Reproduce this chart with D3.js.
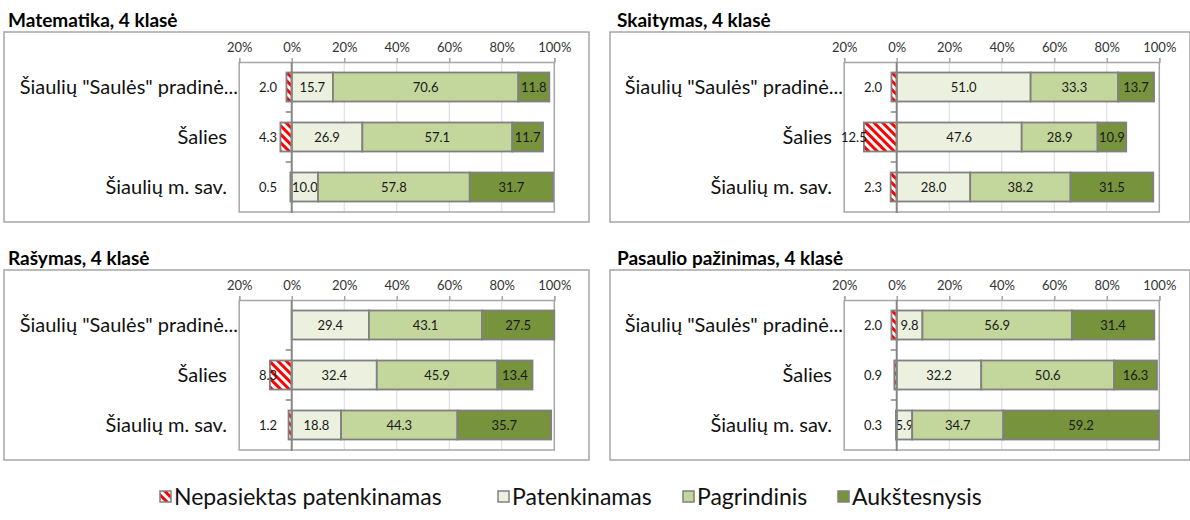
<!DOCTYPE html>
<html>
<head>
<meta charset="utf-8">
<script src="https://cdn.jsdelivr.net/npm/d3@7"></script>
<style>
  body { margin: 0; background: #fff; }
  svg { display: block; font-family: Lato, "Open Sans", sans-serif; }
</style>
</head>
<body>
<div id="chart"></div>
<script>
// data
var categories = ['Šiaulių "Saulės" pradinė...', "Šalies", "Šiaulių m. sav."];
var seriesNames = ["Nepasiektas patenkinamas", "Patenkinamas", "Pagrindinis", "Aukštesnysis"];
var titles = ["Matematika, 4 klasė", "Skaitymas, 4 klasė", "Rašymas, 4 klasė", "Pasaulio pažinimas, 4 klasė"];
var tickValues = [-20, 0, 20, 40, 60, 80, 100];

var matNepasiektas = [2.0, 4.3, 0.5];
var matPatenkinamas = [15.7, 26.9, 10.0];
var matPagrindinis = [70.6, 57.1, 57.8];
var matAukstesnysis = [11.8, 11.7, 31.7];

var skaNepasiektas = [2.0, 12.5, 2.3];
var skaPatenkinamas = [51.0, 47.6, 28.0];
var skaPagrindinis = [33.3, 28.9, 38.2];
var skaAukstesnysis = [13.7, 10.9, 31.5];

var rasNepasiektas = [null, 8.3, 1.2];
var rasPatenkinamas = [29.4, 32.4, 18.8];
var rasPagrindinis = [43.1, 45.9, 44.3];
var rasAukstesnysis = [27.5, 13.4, 35.7];

var pasNepasiektas = [2.0, 0.9, 0.3];
var pasPatenkinamas = [9.8, 32.2, 5.9];
var pasPagrindinis = [56.9, 50.6, 34.7];
var pasAukstesnysis = [31.4, 16.3, 59.2];

var panelData = [
    [matNepasiektas, matPatenkinamas, matPagrindinis, matAukstesnysis],
    [skaNepasiektas, skaPatenkinamas, skaPagrindinis, skaAukstesnysis],
    [rasNepasiektas, rasPatenkinamas, rasPagrindinis, rasAukstesnysis],
    [pasNepasiektas, pasPatenkinamas, pasPagrindinis, pasAukstesnysis]
];

var width = 1190, height = 520;
var colors = ["url(#hatch)", "#ebf1de", "#c3d69b", "#77933c"];
var offsets = [[0, 0], [605, 0], [0, 238], [605, 238]];
var legendX = [160, 498, 683, 838];

var svg = d3.select("#chart").append("svg")
    .attr("width", width)
    .attr("height", height);

// red / white stripes
var pattern = svg.append("defs").append("pattern")
    .attr("id", "hatch")
    .attr("patternUnits", "userSpaceOnUse")
    .attr("width", 6)
    .attr("height", 6)
    .attr("patternTransform", "rotate(-45)");
pattern.append("rect").attr("width", 6).attr("height", 6).attr("fill", "#fff");
pattern.append("rect").attr("width", 3).attr("height", 6).attr("fill", "#ff0000");

var xScale = d3.scaleLinear().domain([-20, 100]).range([239.2, 554.3]);
var yScale = d3.scaleBand().domain(categories).range([62, 212])
    .paddingInner(0.42).paddingOuter(0.21);

panelData.forEach(function(vals, p) {
    var ox = offsets[p][0], oy = offsets[p][1];
    var g = svg.append("g").attr("transform", "translate(" + ox + "," + oy + ")");

    g.append("text")
        .attr("x", ox > 0 ? 12 : 8)
        .attr("y", 27)
        .attr("font-size", 19)
        .attr("font-weight", "bold")
        .attr("fill", "#000")
        .text(titles[p]);

    var boxW = Math.min(585, width - 1 - ox - 4);
    g.append("rect")
        .attr("x", ox > 0 ? 5 : 4).attr("y", 32)
        .attr("width", boxW).attr("height", 190)
        .attr("fill", "none")
        .attr("stroke", "#a6a6a6")
        .attr("stroke-width", 1.5);

    // gridlines
    g.selectAll(".grid")
        .data(tickValues.slice(1, -1))
        .enter().append("line")
        .attr("x1", function(d) { return xScale(d); })
        .attr("x2", function(d) { return xScale(d); })
        .attr("y1", 62).attr("y2", 212)
        .attr("stroke", "#d9d9d9");

    // plot frame: left, bottom, right
    g.append("path")
        .attr("d", "M" + xScale(-20) + ",62V212H" + xScale(100) + "V62")
        .attr("fill", "none")
        .attr("stroke", "#a6a6a6")
        .attr("stroke-width", 1.5);

    var xAxis = g.append("g")
        .attr("transform", "translate(0,62)")
        .call(d3.axisTop(xScale)
            .tickValues(tickValues)
            .tickSize(4)
            .tickPadding(6)
            .tickFormat(function(d) { return Math.abs(d) + "%"; }));
    xAxis.select(".domain").attr("stroke", "#a6a6a6").attr("stroke-width", 1.5);
    xAxis.selectAll(".tick line").attr("stroke", "#a6a6a6").attr("stroke-width", 1.5);
    xAxis.selectAll(".tick text")
        .attr("font-family", "Lato, sans-serif")
        .attr("font-size", 13)
        .attr("fill", "#333");

    // row labels (the long one runs on into the plot edge, as in the original)
    g.selectAll(".rowlabel")
        .data(categories)
        .enter().append("text")
        .attr("x", function(d) { return d.length > 20 ? 238 : 227; })
        .attr("y", function(d) { return yScale(d) + yScale.bandwidth() / 2; })
        .attr("dy", "0.35em")
        .attr("text-anchor", "end")
        .attr("font-size", 20)
        .attr("fill", "#111")
        .text(function(d) { return d; });

    // stacked segments
    vals.forEach(function(serie, s) {
        serie.forEach(function(v, i) {
            if (v == null) return;
            var x0, x1;
            if (s == 0) {
                x0 = -v; x1 = 0;
            } else {
                x0 = d3.sum(vals.slice(1, s), function(a) { return a[i]; });
                x1 = x0 + v;
            }
            var y = yScale(categories[i]);
            g.append("rect")
                .attr("x", xScale(x0))
                .attr("y", y)
                .attr("width", xScale(x1) - xScale(x0))
                .attr("height", yScale.bandwidth())
                .attr("fill", colors[s])
                .attr("stroke", "#808080")
                .attr("stroke-width", 1.8);

            var lx = s == 0 ? (v > 10 ? xScale(-v) - 10 : xScale(-9)) : xScale((x0 + x1) / 2);
            g.append("text")
                .attr("x", lx)
                .attr("y", y + yScale.bandwidth() / 2)
                .attr("dy", "0.35em")
                .attr("text-anchor", "middle")
                .attr("font-size", 13)
                .attr("fill", "#1a1a1a")
                .text(v.toFixed(1));
        });
    });

    // zero line with category ticks
    g.append("line")
        .attr("x1", xScale(0)).attr("x2", xScale(0))
        .attr("y1", 62).attr("y2", 213)
        .attr("stroke", "#868686")
        .attr("stroke-width", 2);
    g.selectAll(".cattick")
        .data([62 + yScale.step(), 62 + 2 * yScale.step()])
        .enter().append("line")
        .attr("x1", xScale(0) - 6).attr("x2", xScale(0))
        .attr("y1", function(d) { return d; })
        .attr("y2", function(d) { return d; })
        .attr("stroke", "#868686")
        .attr("stroke-width", 1.5);
});

// legend
var legend = svg.append("g").attr("transform", "translate(0,497)");
var items = legend.selectAll(".item")
    .data(seriesNames)
    .enter().append("g")
    .attr("transform", function(d, i) { return "translate(" + legendX[i] + ",0)"; });
items.append("rect")
    .attr("x", 0).attr("y", -6)
    .attr("width", 11).attr("height", 11)
    .attr("fill", function(d, i) { return colors[i]; })
    .attr("stroke", "#808080")
    .attr("stroke-width", 1.5);
items.append("text")
    .attr("x", 14)
    .attr("dy", "0.35em")
    .attr("font-size", 23)
    .attr("fill", "#111")
    .text(function(d) { return d; });
</script>
</body>
</html>
